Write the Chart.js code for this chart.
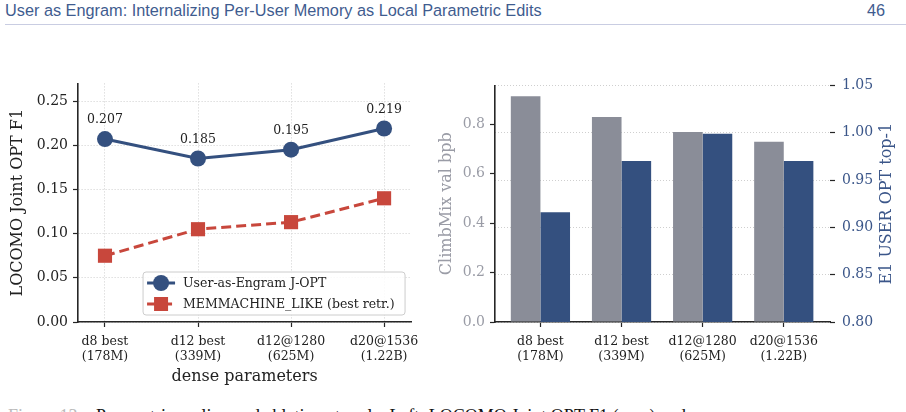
<!DOCTYPE html>
<html>
<head>
<meta charset="utf-8">
<script src="https://cdn.jsdelivr.net/npm/chart.js@4.4.1/dist/chart.umd.min.js"></script>
<style>
  html, body { margin: 0; padding: 0; background: #fff; }
  body { width: 906px; height: 412px; position: relative; overflow: hidden; }
  #hdr { position: absolute; left: 5px; top: 1px; font: 16.3px "Liberation Sans Narrow", "Liberation Sans", sans-serif; color: #3f5c8f; white-space: nowrap; }
  #pg { position: absolute; right: 21px; top: 1px; font: 16.3px "Liberation Sans Narrow", "Liberation Sans", sans-serif; color: #3f5c8f; }
  #rule { position: absolute; left: 5px; right: 0; top: 24px; height: 1px; background: #c9cde2; }
  #cap { position: absolute; left: 8px; top: 406px; font: 18px "Liberation Serif", serif; color: #111; white-space: nowrap; }
  #cap span { color: #bbb; }
  #left { position: absolute; left: 0; top: 70px; }
  #right { position: absolute; left: 430px; top: 70px; }
</style>
</head>
<body>
<div id="hdr">User as Engram: Internalizing Per-User Memory as Local Parametric Edits</div>
<div id="pg">46</div>
<div id="rule"></div>
<canvas id="left" width="426" height="320"></canvas>
<canvas id="right" width="476" height="320"></canvas>
<div id="cap"><span>Figure 13:</span> &nbsp; Parametric scaling and ablation at scale. Left: LOCOMO Joint OPT F1 (ours) and</div>
<script>
// categories and values
const categories = [["d8 best", "(178M)"], ["d12 best", "(339M)"], ["d12@1280", "(625M)"], ["d20@1536", "(1.22B)"]];
const engramF1 = [0.207, 0.185, 0.195, 0.219];
const memmachineF1 = [0.075, 0.105, 0.113, 0.140];
const climbmixBpb = [0.912, 0.828, 0.768, 0.728];
const userOptTop1 = [0.916, 0.970, 0.999, 0.970];
const legendNames = ["User-as-Engram J-OPT", "MEMMACHINE_LIKE (best retr.)"];

const BLUE = "#34507f";
const RED = "#c8473c";
const GRAY = "#8a8d98";
const AXIS = "#262626";
const GRID = "#cfcfcf";

Chart.defaults.font.family = "DejaVu Serif";
Chart.defaults.color = "#222";

const serif = (size) => ({ family: "DejaVu Serif", size: size });
const catTicks = (scale) => { scale.ticks = categories.map((c, i) => ({ value: i })); };

// value labels over the blue points + legend box inside the plot
const leftExtras = {
  id: "leftExtras",
  afterDatasetsDraw(chart) {
    const ctx = chart.ctx;
    const meta = chart.getDatasetMeta(0);
    ctx.save();
    ctx.font = "12.5px DejaVu Serif";
    ctx.fillStyle = "#222";
    ctx.textAlign = "center";
    ctx.textBaseline = "middle";
    meta.data.forEach((pt, i) => {
      ctx.fillText(engramF1[i].toFixed(3), pt.x, pt.y - 19);
    });

    const area = chart.chartArea;
    const w = 262, h = 43;
    const bx = area.right - 6 - w;
    const by = area.bottom - 7 - h;
    ctx.beginPath();
    ctx.roundRect(bx, by, w, h, 3);
    ctx.fillStyle = "rgba(255,255,255,0.85)";
    ctx.fill();
    ctx.strokeStyle = "#cccccc";
    ctx.lineWidth = 1;
    ctx.stroke();

    const rows = [by + 11, by + 32];
    chart.data.datasets.forEach((ds, i) => {
      const y = rows[i];
      ctx.save();
      ctx.strokeStyle = ds.borderColor;
      ctx.lineWidth = 3;
      ctx.setLineDash(ds.borderDash || []);
      ctx.beginPath();
      ctx.moveTo(bx + 4, y);
      ctx.lineTo(bx + 32, y);
      ctx.stroke();
      ctx.restore();
      ctx.fillStyle = ds.backgroundColor;
      if (ds.pointStyle === "rect") {
        ctx.fillRect(bx + 18 - 7, y - 7, 14, 14);
      } else {
        ctx.beginPath();
        ctx.arc(bx + 18, y, 8, 0, Math.PI * 2);
        ctx.fill();
      }
      ctx.fillStyle = "#222";
      ctx.textAlign = "left";
      ctx.font = "12.5px DejaVu Serif";
      ctx.fillText(legendNames[i], bx + 40, y + 1);
    });
    ctx.restore();
  }
};

new Chart(document.getElementById("left"), {
  type: "line",
  data: {
    datasets: [
      {
        data: engramF1.map((v, i) => ({ x: i, y: v })),
        borderColor: BLUE,
        backgroundColor: BLUE,
        borderWidth: 3,
        pointRadius: 8,
        pointStyle: "circle",
        pointBorderWidth: 0,
        clip: false
      },
      {
        data: memmachineF1.map((v, i) => ({ x: i, y: v })),
        borderColor: RED,
        backgroundColor: RED,
        borderWidth: 3,
        borderDash: [10, 5],
        pointRadius: 10,
        pointStyle: "rect",
        pointBorderWidth: 0,
        clip: false
      }
    ]
  },
  options: {
    responsive: false,
    animation: false,
    layout: { padding: { top: 13, right: 10, left: 0, bottom: 0 } },
    plugins: { legend: { display: false }, tooltip: { enabled: false } },
    scales: {
      x: {
        type: "linear",
        min: -0.29,
        max: 3.29,
        afterBuildTicks: catTicks,
        afterFit: (scale) => { scale.height = 68; },
        ticks: {
          callback: (v) => categories[v],
          font: serif(12.5),
          color: "#222",
          padding: 7,
          maxRotation: 0
        },
        grid: { color: GRID, tickColor: AXIS, tickLength: 5, tickWidth: 1.2 },
        border: { color: AXIS, width: 1.6, dash: [1, 2] },
        title: { display: true, text: "dense parameters", font: serif(16), color: "#222", padding: { top: 0 } }
      },
      y: {
        min: 0,
        max: 0.27,
        afterFit: (scale) => { scale.width = 78; },
        ticks: {
          stepSize: 0.05,
          includeBounds: false,
          callback: (v) => v.toFixed(2),
          font: serif(14),
          color: "#222",
          padding: 5
        },
        grid: { color: GRID, tickColor: AXIS, tickLength: 5, tickWidth: 1.2 },
        border: { color: AXIS, width: 1.6, dash: [1, 2] },
        title: { display: true, text: "LOCOMO Joint OPT F1", font: serif(16), color: "#222", padding: { top: 8, bottom: 2 } }
      }
    }
  },
  plugins: [leftExtras]
});

// right axis title reads bottom-to-top like the left one
const rightTitle = {
  id: "rightTitle",
  afterDraw(chart) {
    const s = chart.scales.y1;
    const ctx = chart.ctx;
    ctx.save();
    ctx.translate(s.right - 19, (s.top + s.bottom) / 2);
    ctx.rotate(-Math.PI / 2);
    ctx.font = "16px DejaVu Serif";
    ctx.fillStyle = "#3b5689";
    ctx.textAlign = "center";
    ctx.textBaseline = "middle";
    ctx.fillText("E1 USER OPT top-1", 0, 0);
    ctx.restore();
  }
};

new Chart(document.getElementById("right"), {
  type: "bar",
  data: {
    datasets: [
      { data: climbmixBpb.map((v, i) => ({ x: i, y: v })), yAxisID: "y", backgroundColor: GRAY, categoryPercentage: 0.73, barPercentage: 1.0 },
      { data: userOptTop1.map((v, i) => ({ x: i, y: v })), yAxisID: "y1", backgroundColor: BLUE, categoryPercentage: 0.73, barPercentage: 1.0 }
    ]
  },
  options: {
    responsive: false,
    animation: false,
    layout: { padding: { top: 13, right: 0, left: 0, bottom: 0 } },
    plugins: { legend: { display: false }, tooltip: { enabled: false } },
    scales: {
      x: {
        type: "linear",
        min: -0.56,
        max: 3.57,
        offset: false,
        afterBuildTicks: catTicks,
        afterFit: (scale) => { scale.height = 68; },
        ticks: { callback: (v) => categories[v], font: serif(12.5), color: "#222", padding: 7, maxRotation: 0 },
        grid: { offset: false, drawOnChartArea: false, tickColor: AXIS, tickLength: 5, tickWidth: 1.2 },
        border: { color: AXIS, width: 1.6 }
      },
      y: {
        position: "left",
        min: 0,
        max: 0.956,
        afterFit: (scale) => { scale.width = 65; },
        ticks: {
          stepSize: 0.2,
          includeBounds: false,
          callback: (v) => v.toFixed(1),
          font: serif(14),
          color: "#9a9ca6",
          padding: 5
        },
        grid: { drawOnChartArea: false, tickColor: AXIS, tickLength: 5, tickWidth: 1.2 },
        border: { color: AXIS, width: 1.6 },
        title: { display: true, text: "ClimbMix val bpb", font: serif(16), color: "#9a9ca6", padding: { top: 7, bottom: 2 } }
      },
      y1: {
        position: "right",
        min: 0.8,
        max: 1.05,
        afterFit: (scale) => { scale.width = 76; },
        ticks: {
          stepSize: 0.05,
          includeBounds: false,
          callback: (v) => v.toFixed(2),
          font: serif(14),
          color: "#3b5689",
          padding: 7
        },
        grid: { color: GRID, tickColor: AXIS, tickLength: 5, tickWidth: 1.2 },
        border: { display: false, dash: [1, 2] }
      }
    }
  },
  plugins: [rightTitle]
});
</script>
</body>
</html>
